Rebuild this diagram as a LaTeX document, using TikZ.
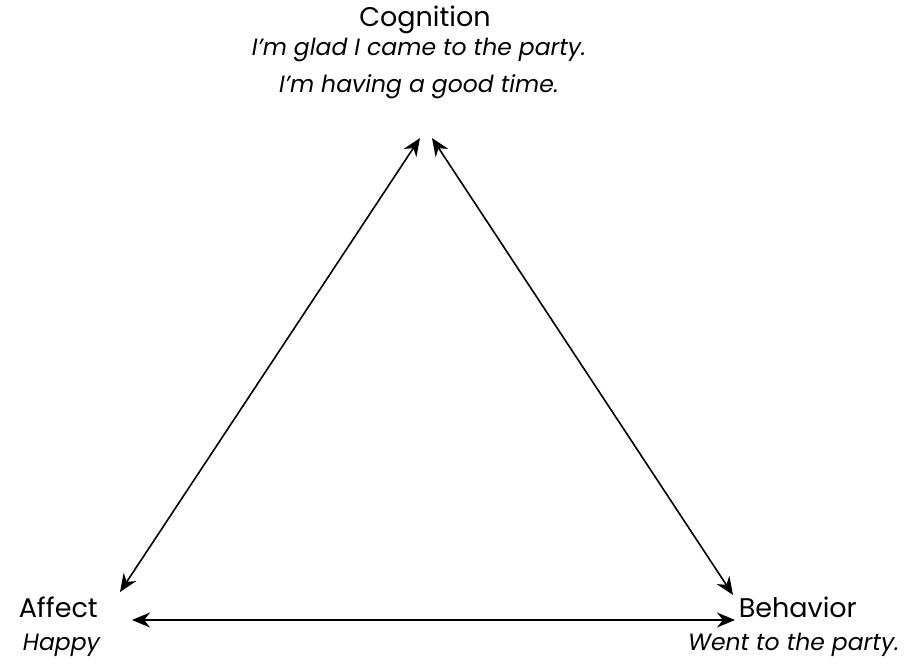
\documentclass[tikz,border=0pt]{standalone}
\usepackage{fontspec}
\setmainfont{Poppins}
\usepackage{tikz}
\usetikzlibrary{positioning, arrows.meta}

\begin{document}
\begin{tikzpicture}[x=1pt, y=-1pt, line width=1.6pt, >={Stealth[length=18pt, width=15pt]},
    head/.style={font=\fontsize{27}{30}\selectfont, inner sep=0pt},
    desc/.style={font=\fontsize{23.5}{37}\selectfont\itshape, inner sep=0pt, align=center}]
   \useasboundingbox (0,0) rectangle (915,665);
   \node[head] (cog) at (425,20) {Cognition};
   \node[desc] (cogtext) [below=3pt of cog, xshift=-6pt] {I’m glad I came to the party.\\I’m having a good time.};
   \node[head, anchor=west] (aff) at (18,607) {Affect};
   \node[desc, anchor=west] (afftext) at (22,645) {Happy};
   \node[head, anchor=west] (beh) at (738,607) {Behavior};
   \node[desc, anchor=east] (behtext) at (900,645) {Went to the party.};

   \coordinate (cl) at (420,138);
   \coordinate (cr) at (432,138);
   \coordinate (al) at (120,592);
   \coordinate (ab) at (132,620);
   \coordinate (bl) at (735,620);
   \coordinate (bt) at (733,595);

   \draw[<->] (al) -- (cl);
   \draw[<->] (cr) -- (bt);
   \draw[<->] (ab) -- (bl);
\end{tikzpicture}
\end{document}
